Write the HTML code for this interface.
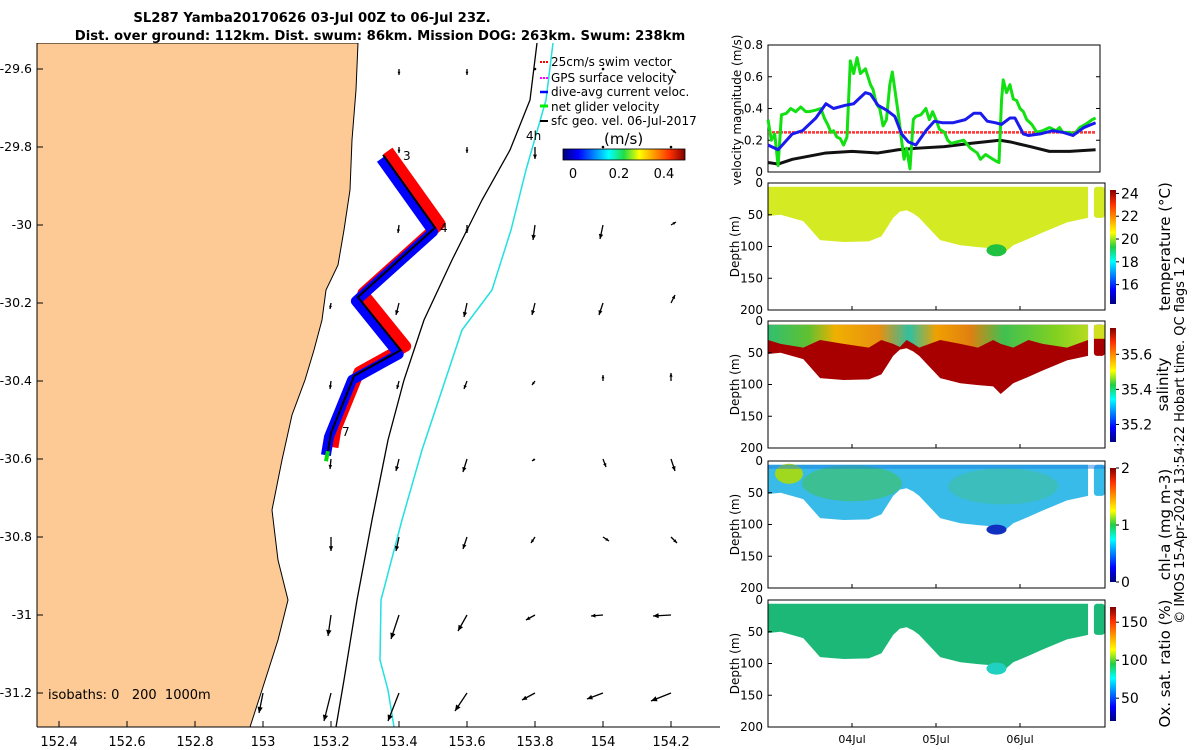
<!DOCTYPE html>
<html><head><meta charset="utf-8"><style>
body{margin:0;background:#fff;}
svg{display:block;font-family:"DejaVu Sans","Liberation Sans",sans-serif;}
</style></head><body>
<svg id="fig" width="1200" height="750" viewBox="0 0 1200 750" xmlns="http://www.w3.org/2000/svg">
<defs>
<linearGradient id="jetH" x1="0" y1="0" x2="1" y2="0">
<stop offset="0" stop-color="#00007f"/><stop offset="0.125" stop-color="#0000ff"/><stop offset="0.375" stop-color="#00ffff"/><stop offset="0.5" stop-color="#22dd44"/><stop offset="0.625" stop-color="#ffff00"/><stop offset="0.875" stop-color="#ff3000"/><stop offset="1" stop-color="#800000"/>
</linearGradient>
<linearGradient id="jetV" x1="0" y1="1" x2="0" y2="0">
<stop offset="0" stop-color="#00007f"/><stop offset="0.125" stop-color="#0000ff"/><stop offset="0.375" stop-color="#00ffff"/><stop offset="0.5" stop-color="#22cc44"/><stop offset="0.625" stop-color="#ffff00"/><stop offset="0.875" stop-color="#ff3000"/><stop offset="1" stop-color="#800000"/>
</linearGradient>
<linearGradient id="salTop" x1="768" y1="0" x2="1105" y2="0" gradientUnits="userSpaceOnUse">
<stop offset="0" stop-color="#30c070"/><stop offset="0.12" stop-color="#60c030"/><stop offset="0.2" stop-color="#f0b000"/><stop offset="0.33" stop-color="#e89010"/><stop offset="0.42" stop-color="#30c0a0"/><stop offset="0.5" stop-color="#f0a000"/><stop offset="0.6" stop-color="#e08010"/><stop offset="0.7" stop-color="#40c050"/><stop offset="0.85" stop-color="#80d020"/><stop offset="1" stop-color="#d0e020"/>
</linearGradient>
<clipPath id="mapclip"><rect x="37" y="43" width="683" height="684"/></clipPath>
</defs>

<text x="312" y="22" text-anchor="middle" font-size="13.2" font-weight="bold">SL287 Yamba20170626 03-Jul 00Z to 06-Jul 23Z.</text>
<text x="380" y="40" text-anchor="middle" font-size="13.2" font-weight="bold">Dist. over ground: 112km. Dist. swum: 86km. Mission DOG: 263km. Swum: 238km</text>

<g id="map" clip-path="url(#mapclip)">
<polygon fill="#fdca96" stroke="#000" stroke-width="1" points="30,43 358,43 356,90 352,140 350,190 344,230 338,265 326,290 322,320 314,350 305,380 292,415 282,460 272,510 278,560 288,600 278,640 262,690 250,727 30,727"/>
<polyline fill="none" stroke="#000" stroke-width="1.3" points="537,43 530,100 510,150 482,200 452,260 424,320 404,380 388,440 372,520 357,600 344,680 336,727"/>
<polyline fill="none" stroke="#22e0e0" stroke-width="1.5" points="553,43 546,100 526,170 511,230 492,290 462,330 442,390 422,450 402,520 381,600 380,660 388,690 394,727"/>
<g id="arrows"></g>
<g id="track"></g>
<text x="403" y="160" font-size="12">3</text>
<text x="440" y="232" font-size="12">4</text>
<text x="342" y="436" font-size="12">7</text>
<text x="526" y="140" font-size="12">4h</text>
<text x="48" y="699" font-size="13" xml:space="preserve">isobaths: 0   200  1000m</text>
</g>
<line x1="37" y1="43" x2="37" y2="727" stroke="#000"/>
<line x1="37" y1="727" x2="720" y2="727" stroke="#000"/>
<g id="mapticks" font-size="13"></g>

<g font-size="12">
<line x1="540" y1="62" x2="548" y2="62" stroke="#f00" stroke-width="2" stroke-dasharray="2,1"/>
<text x="551" y="66">25cm/s swim vector</text>
<line x1="540" y1="78" x2="548" y2="78" stroke="#f0f" stroke-width="2" stroke-dasharray="2,1"/>
<text x="551" y="82">GPS surface velocity</text>
<line x1="540" y1="92" x2="548" y2="92" stroke="#00f" stroke-width="2.5"/>
<text x="551" y="96">dive-avg current veloc.</text>
<line x1="540" y1="106" x2="548" y2="106" stroke="#0e0" stroke-width="3"/>
<text x="551" y="111">net glider velocity</text>
<line x1="540" y1="121" x2="548" y2="121" stroke="#000" stroke-width="2"/>
<text x="551" y="125">sfc geo. vel. 06-Jul-2017</text>
<text x="604" y="144" font-size="15">(m/s)</text>
<rect x="563" y="149" width="122" height="11" fill="url(#jetH)" stroke="#000" stroke-width="0.8"/>
<text x="573" y="178" text-anchor="middle" font-size="13">0</text>
<text x="619" y="178" text-anchor="middle" font-size="13">0.2</text>
<text x="664" y="178" text-anchor="middle" font-size="13">0.4</text>
</g>

<g id="velplot">
<rect x="768" y="45" width="332" height="127" fill="none" stroke="#000" stroke-width="1"/>
<text transform="translate(741,110) rotate(-90)" text-anchor="middle" font-size="12">velocity magnitude (m/s)</text>
</g>

<g id="panels"></g>

<text transform="translate(1184,440) rotate(-90)" text-anchor="middle" font-size="13">© IMOS 15-Apr-2024 13:54:22 Hobart time. QC flags 1  2</text>
</svg>
<script>
var greenDays=[0,0.04,0.08,0.12,0.16,0.22,0.27,0.33,0.39,0.45,0.49,0.57,0.63,0.67,0.71,0.75,0.78,0.82,0.86,0.9,0.94,0.98,1.02,1.06,1.1,1.16,1.22,1.25,1.29,1.33,1.37,1.41,1.45,1.48,1.51,1.55,1.59,1.62,1.65,1.69,1.73,1.76,1.82,1.88,1.92,1.96,2.0,2.04,2.1,2.14,2.18,2.25,2.33,2.41,2.49,2.53,2.59,2.65,2.71,2.75,2.78,2.8,2.84,2.88,2.92,2.96,3.0,3.04,3.08,3.14,3.2,3.27,3.35,3.43,3.47,3.51,3.59,3.65,3.71,3.78,3.86,3.9];
var greenVals=[0.33,0.2,0.24,0.04,0.36,0.37,0.40,0.38,0.41,0.38,0.38,0.39,0.40,0.34,0.30,0.25,0.26,0.22,0.21,0.17,0.22,0.70,0.62,0.72,0.62,0.65,0.55,0.52,0.43,0.40,0.29,0.33,0.55,0.63,0.52,0.37,0.20,0.08,0.15,0.02,0.33,0.35,0.36,0.40,0.33,0.38,0.33,0.27,0.25,0.20,0.18,0.19,0.20,0.15,0.12,0.08,0.11,0.09,0.07,0.06,0.45,0.58,0.50,0.55,0.46,0.45,0.40,0.38,0.33,0.30,0.25,0.26,0.28,0.26,0.28,0.25,0.25,0.24,0.28,0.30,0.33,0.34];
var blueDays=[0,0.12,0.29,0.41,0.57,0.69,0.78,0.92,1.02,1.1,1.16,1.22,1.31,1.41,1.51,1.59,1.67,1.76,1.88,1.98,2.08,2.2,2.35,2.45,2.53,2.61,2.71,2.78,2.88,2.94,3.04,3.1,3.24,3.39,3.51,3.63,3.76,3.9];
var blueVals=[0.17,0.14,0.24,0.26,0.34,0.43,0.40,0.42,0.43,0.47,0.50,0.49,0.42,0.39,0.35,0.24,0.19,0.17,0.26,0.32,0.31,0.31,0.33,0.37,0.37,0.32,0.31,0.30,0.34,0.34,0.24,0.23,0.24,0.26,0.25,0.23,0.28,0.31];
var blackDays=[0,0.12,0.29,0.69,1.0,1.31,1.55,1.78,2.1,2.41,2.76,2.88,3.12,3.35,3.59,3.9];
var blackVals=[0.06,0.05,0.08,0.12,0.13,0.12,0.14,0.15,0.16,0.18,0.20,0.19,0.16,0.13,0.13,0.14];
var swimVal=0.25;
var velTicks=[0,0.2,0.4,0.6,0.8];
var profDays=[0,0.15,0.42,0.62,0.9,1.2,1.35,1.49,1.57,1.65,1.73,1.8,2.05,2.29,2.5,2.68,2.77,2.92,3.1,3.27,3.56,3.81];
var profBottom=[52,50,60,90,93,92,84,55,45,43,48,55,90,98,101,103,115,98,88,78,62,55];
var extraDays=[3.88,4.01];
var extraBottom=[55,55];
var depthTicks=[0,50,100,150,200];
var dayTicks=[1,2,3];
var dayLabels=['04Jul','05Jul','06Jul'];
var panelNames=['temperature','salinity','chlorophyll','oxygen'];
var panelTitles=['temperature (°C)','salinity','chl-a (mg m-3)','Ox. sat. ratio (%)'];
var cbTicks=[[16,18,20,22,24],[35.2,35.4,35.6],[0,1,2],[50,100,150]];
var cbRange=[[14.3,24.3],[35.1,35.75],[0,2],[20,170]];
var panelFill=['#d4ea22','#a80000','#38bbe8','#1cb878'];
var arrowLons=[153.0,153.2,153.4,153.6,153.8,154.0,154.2];
var arrowLats=[-29.6,-29.8,-30.0,-30.2,-30.4,-30.6,-30.8,-31.0,-31.2];
var arrowU=[[null,null,0,0,0,0,5],[null,null,0,0,0,0,0],[null,null,-1,0,-2,-3,5],[null,-1,-3,-3,-3,-4,4],[null,-1,-2,-3,-3,0,0],[null,-1,-3,-4,-3,3,4],[null,0,-3,-4,-4,6,6],[null,-3,-8,-9,-9,-12,-18],[-4,-7,-11,-12,-13,-16,-20]];
var arrowV=[[null,null,6,6,0,0,4],[null,null,6,6,12,0,0],[null,null,8,8,15,14,-3],[null,6,12,14,12,12,-8],[null,8,8,8,4,-6,-8],[null,10,12,13,2,8,12],[null,14,14,12,6,4,6],[null,21,24,16,5,1,1],[20,28,28,18,7,6,8]];
var mapLonTicks=[152.4,152.6,152.8,153,153.2,153.4,153.6,153.8,154,154.2];
var mapLatTicks=[-29.6,-29.8,-30,-30.2,-30.4,-30.6,-30.8,-31,-31.2];
var trackLon=[153.353,153.506,153.279,153.405,153.268,153.2,153.191];
var trackLat=[-29.82,-30.007,-30.185,-30.321,-30.387,-30.533,-30.58];

var NS='http://www.w3.org/2000/svg';
function mk(tag,attrs,parent){var e=document.createElementNS(NS,tag);for(var k in attrs)e.setAttribute(k,attrs[k]);parent.appendChild(e);return e;}
function lonX(l){return 263+(l-153)*340;}
function latY(l){return 693-(l+31.2)*390;}
function dayX(d){return 768+d*84;}
function velY(v){return 172-v*127/0.8;}

var mt=document.getElementById('mapticks');
mapLonTicks.forEach(function(l){var x=lonX(l);
 mk('line',{x1:x,y1:727,x2:x,y2:721,stroke:'#000'},mt);
 var tx=mk('text',{x:x,y:746,'text-anchor':'middle'},mt);tx.textContent=String(l);
 
 
});
mapLatTicks.forEach(function(l){var y=latY(l);
 mk('line',{x1:37,y1:y,x2:43,y2:y,stroke:'#000'},mt);
 var tx=mk('text',{x:32,y:y+4,'text-anchor':'end','font-size':12.5},mt);tx.textContent=String(l);
 
 
});
var ag=document.getElementById('arrows');
arrowLats.forEach(function(la,i){arrowLons.forEach(function(lo,j){
 var u=arrowU[i][j],v=arrowV[i][j]; if(u===null)return;
 var x=lonX(lo),y=latY(la),x2=x+u,y2=y+v,L=Math.sqrt(u*u+v*v);
 var g=mk('g',{},ag);
 
 
 if(L<1.5){mk('circle',{cx:x,cy:y,r:1.3,fill:'#000'},g);return;}
 mk('line',{x1:x,y1:y,x2:x2,y2:y2,stroke:'#000','stroke-width':1.3},g);
 var ux=u/L,uy=v/L,h=Math.min(6,2+L*0.2),w=h*0.45;
 mk('polygon',{points:x2+','+y2+' '+(x2-ux*h-uy*w)+','+(y2-uy*h+ux*w)+' '+(x2-ux*h+uy*w)+','+(y2-uy*h-ux*w),fill:'#000'},g);
});});
var tg=document.getElementById('track');
function ptsOff(dx,dy){return trackLon.map(function(l,i){return (lonX(l)+dx)+','+(latY(trackLat[i])+dy);}).join(' ');}
var rb=mk('polyline',{points:ptsOff(5,-4),fill:'none',stroke:'#f00','stroke-width':11,'stroke-linejoin':'round'},tg);


var bb=mk('polyline',{points:ptsOff(-2,4),fill:'none',stroke:'#00f','stroke-width':10,'stroke-linejoin':'round'},tg);


var tl=mk('polyline',{points:ptsOff(0,0),fill:'none',stroke:'#000','stroke-width':2},tg);


var ge=mk('line',{x1:lonX(trackLon[6]),y1:latY(trackLat[6]),x2:lonX(trackLon[6])-2,y2:latY(trackLat[6])+10,stroke:'#0d0','stroke-width':4},tg);



var vp=document.getElementById('velplot');
velTicks.forEach(function(v){var y=velY(v);
 mk('line',{x1:768,y1:y,x2:772,y2:y,stroke:'#000'},vp);mk('line',{x1:1096,y1:y,x2:1100,y2:y,stroke:'#000'},vp);
 var t=mk('text',{x:763,y:y+4,'text-anchor':'end','font-size':12},vp);t.textContent=String(v);
 
 
});
function series(days,vals,col,w,name){var p=mk('polyline',{points:days.map(function(d,i){return dayX(d)+','+velY(vals[i]);}).join(' '),fill:'none',stroke:col,'stroke-width':w,'stroke-linejoin':'round'},vp);
 
 }
var sw=mk('line',{x1:dayX(0),y1:velY(swimVal),x2:dayX(3.9),y2:velY(swimVal),stroke:'#f33','stroke-width':2.5,'stroke-dasharray':'3,1'},vp);


series(blackDays,blackVals,'#111',3,'geostrophic-velocity-line');
series(greenDays,greenVals,'#11e011',3,'net-glider-velocity-line');
series(blueDays,blueVals,'#1a1aee',3,'dive-avg-current-line');

var pg=document.getElementById('panels');
var tops=[183,321,461,600],H=127;
panelNames.forEach(function(nm,k){
 var y0=tops[k];function dY(d){return y0+d*H/200;}
 var g=mk('g',{},pg);
 
 
 var pts=[dayX(profDays[0])+','+dY(6)];
 pts.push(dayX(profDays[profDays.length-1])+','+dY(6));
 for(var i=profDays.length-1;i>=0;i--)pts.push(dayX(profDays[i])+','+dY(profBottom[i]));
 var sh=mk('polygon',{points:pts.join(' '),fill:panelFill[k]},g);
 
 
 var ex=mk('rect',{x:dayX(extraDays[0]),y:dY(6),width:dayX(extraDays[1])-dayX(extraDays[0]),height:dY(extraBottom[0])-dY(6),fill:panelFill[k],rx:3},g);
 
 
 if(k===1){
  var tp=[];for(var i=0;i<profDays.length;i++)tp.push(dayX(profDays[i])+','+dY(Math.min(profBottom[i]-4,30+(i%3)*6)));
  tp.push(dayX(profDays[profDays.length-1])+','+dY(6));tp.push(dayX(0)+','+dY(6));
  mk('polygon',{points:tp.join(' '),fill:'url(#salTop)'},g);
  mk('rect',{x:dayX(extraDays[0]),y:dY(6),width:dayX(extraDays[1])-dayX(extraDays[0]),height:dY(28)-dY(6),fill:'#d0e020'},g);
 }
 if(k===0){mk('ellipse',{cx:dayX(2.72),cy:dY(106),rx:10,ry:6,fill:'#20c040'},g);}
 if(k===2){mk('ellipse',{cx:dayX(1.0),cy:dY(35),rx:50,ry:18,fill:'#40c070','opacity':0.7},g);
  mk('ellipse',{cx:dayX(2.8),cy:dY(40),rx:55,ry:18,fill:'#40c0a0','opacity':0.6},g);
  mk('ellipse',{cx:dayX(0.25),cy:dY(20),rx:14,ry:10,fill:'#a0d820'},g);
  mk('ellipse',{cx:dayX(2.72),cy:dY(108),rx:10,ry:5,fill:'#1030c0'},g);
  mk('rect',{x:768,y:dY(6),width:337,height:4,fill:'#2080e0','opacity':0.5},g);}
 if(k===3){mk('ellipse',{cx:dayX(2.72),cy:dY(108),rx:10,ry:6,fill:'#20d0c0'},g);}
 mk('rect',{x:768,y:y0,width:337,height:H,fill:'none',stroke:'#000'},g);
 depthTicks.forEach(function(d){var y=dY(d);mk('line',{x1:768,y1:y,x2:772,y2:y,stroke:'#000'},g);
  var t=mk('text',{x:763,y:y+4,'text-anchor':'end','font-size':12},g);t.textContent=String(d);
  
  });
 dayTicks.forEach(function(d){var x=dayX(d);mk('line',{x1:x,y1:y0+H,x2:x,y2:y0+H-4,stroke:'#000'},g);});
 var yt=mk('text',{transform:'translate(739,'+(y0+H/2)+') rotate(-90)','text-anchor':'middle','font-size':12},g);yt.textContent='Depth (m)';
 
 
 var cy0=y0+7,cy1=y0+H-6;
 var cb=mk('rect',{x:1110,y:cy0,width:6,height:cy1-cy0,fill:'url(#jetV)'},g);
 
 
 var r=cbRange[k];
 cbTicks[k].forEach(function(v){var y=cy1-(v-r[0])/(r[1]-r[0])*(cy1-cy0);
  mk('line',{x1:1116,y1:y,x2:1119,y2:y,stroke:'#000'},g);
  var t=mk('text',{x:1121,y:y+5,'font-size':14},g);t.textContent=String(v);
  
  });
 var ct=mk('text',{transform:'translate('+(k===1?1168:1170)+','+(y0+H/2)+') rotate(-90)','text-anchor':'middle','font-size':15},g);ct.textContent=panelTitles[k];
 
 
 if(k===3){dayTicks.forEach(function(d,i){var t=mk('text',{x:dayX(d),y:y0+H+16,'text-anchor':'middle','font-size':11},g);t.textContent=dayLabels[i];
  
  });}
});
</script>
</body></html>
